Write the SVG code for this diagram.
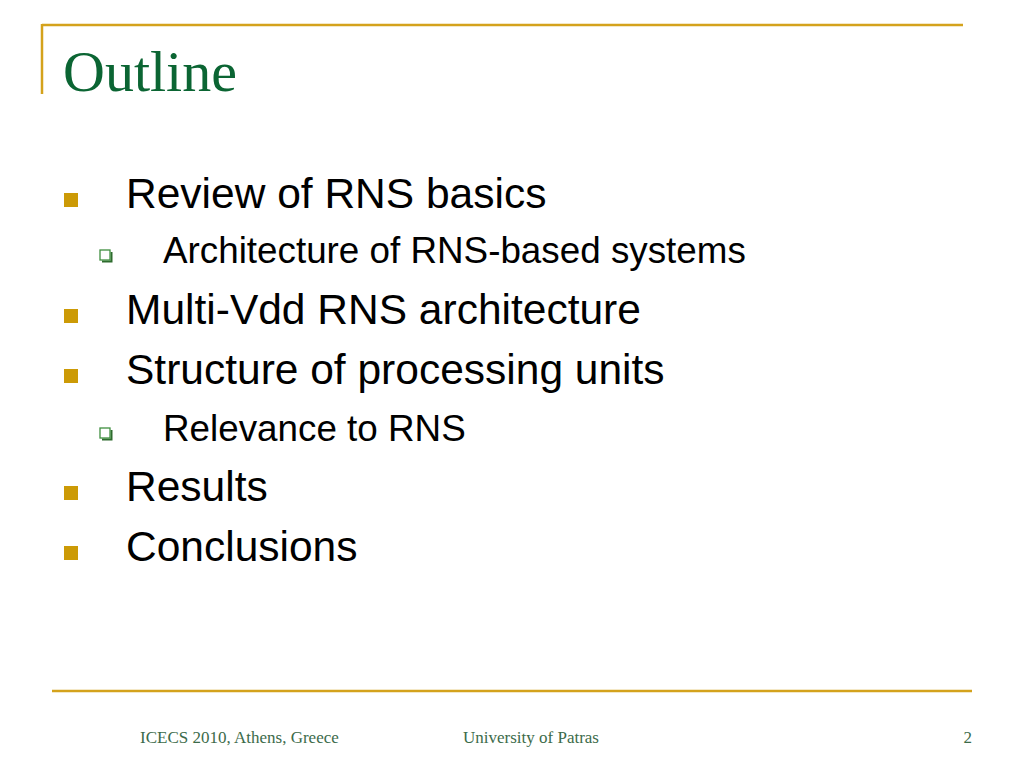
<svg xmlns="http://www.w3.org/2000/svg" width="1024" height="768" viewBox="0 0 1024 768">
<style>
.rule{stroke:#D4A21C;stroke-width:2.5;fill:none}
.title{font-family:"Liberation Serif",serif;font-size:58px;fill:#0B6533}
.l1{font-family:"Liberation Sans",Arial,sans-serif;font-size:42.5px;fill:#000}
.l2{font-family:"Liberation Sans",Arial,sans-serif;font-size:36.8px;fill:#000}
.b1{fill:#CC9A06}
.b2{fill:#fff;stroke:#3F8F3F;stroke-width:1.3}
.b2s{fill:none;stroke:#2E6B2E;stroke-width:2}
.foot{font-family:"Liberation Serif",serif;font-size:17px;fill:#3C6B4A}
</style>
<rect width="1024" height="768" fill="#fff"/>
<g id="frame">
<line class="rule" x1="42" y1="25" x2="963" y2="25"/>
<line class="rule" x1="42" y1="24" x2="42" y2="94"/>
<line class="rule" x1="52" y1="691" x2="972" y2="691"/>
</g>
<g id="title"><text class="title" x="63" y="91">Outline</text></g>
<defs>
<g id="sq"><rect class="b1" x="0" y="0" width="14" height="14"/></g>
<g id="hs"><path class="b2s" d="M2 11.5H11.5V2"/><rect class="b2" x="0" y="0" width="10" height="10"/></g>
</defs>
<g id="item1"><use href="#sq" x="64" y="193"/><text class="l1" x="126" y="208">Review of RNS basics</text></g>
<g id="item1a"><use href="#hs" x="100" y="250"/><text class="l2" x="163" y="263">Architecture of RNS-based systems</text></g>
<g id="item2"><use href="#sq" x="64" y="309"/><text class="l1" x="126" y="324">Multi-Vdd RNS architecture</text></g>
<g id="item3"><use href="#sq" x="64" y="369"/><text class="l1" x="126" y="384">Structure of processing units</text></g>
<g id="item3a"><use href="#hs" x="100" y="428"/><text class="l2" x="163" y="441">Relevance to RNS</text></g>
<g id="item4"><use href="#sq" x="64" y="486"/><text class="l1" x="126" y="501">Results</text></g>
<g id="item5"><use href="#sq" x="64" y="546"/><text class="l1" x="126" y="561">Conclusions</text></g>
<g id="footer">
<text class="foot" x="140" y="743">ICECS 2010, Athens, Greece</text>
<text class="foot" x="463" y="743">University of Patras</text>
<text class="foot" x="972" y="743" text-anchor="end">2</text>
</g>
</svg>
